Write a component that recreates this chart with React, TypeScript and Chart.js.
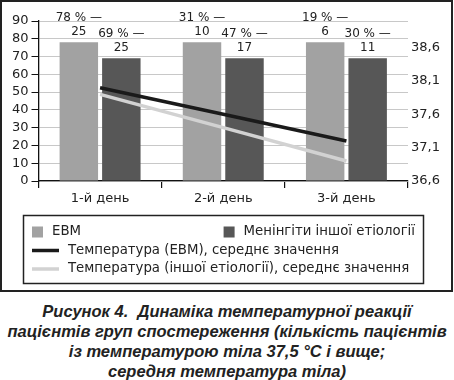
import React, { useEffect, useRef } from "react";
import { Chart, registerables } from "chart.js";

Chart.register(...registerables);

const categories = ["1-й день", "2-й день", "3-й день"];
// bar heights as drawn in the figure (%)
const ebvBars = [78, 78, 78];
const otherBars = [69, 69, 69];
// labels printed above the bars
const ebvPctLabels = ["78 %", "31 %", "19 %"];
const ebvCounts = ["25", "10", "6"];
const otherPctLabels = ["69 %", "47 %", "30 %"];
const otherCounts = ["25", "17", "11"];
// mean temperature, °C
const ebvTemp = [38.0, 37.6, 37.2];
const otherTemp = [37.9, 37.4, 36.9];
const leftTicks = [0, 10, 20, 30, 40, 50, 60, 70, 80, 90];
const rightTicks = [36.6, 37.1, 37.6, 38.1, 38.6];

const seriesNames = [
  "ЕВМ",
  "Менінгіти іншої етіології",
  "Температура (ЕВМ), середнє значення",
  "Температура (іншої етіології), середнє значення",
];

const FONT = "'DejaVu Sans', 'Liberation Sans', Arial, sans-serif";
const TXT = "#222";
const C_EBV = "#a2a2a2";
const C_OTHER = "#575757";
const C_LINE1 = "#1a1a1a";
const C_LINE2 = "#d2d2d2";

const barLabelPlugin = {
  id: "barLabels",
  afterDatasetsDraw(chart: any) {
    const ctx = chart.ctx;
    ctx.save();
    ctx.font = `12px ${FONT}`;
    ctx.fillStyle = TXT;
    ctx.textAlign = "center";
    ctx.textBaseline = "middle";
    const sets = [
      { idx: 2, pct: ebvPctLabels, cnt: ebvCounts },
      { idx: 3, pct: otherPctLabels, cnt: otherCounts },
    ];
    for (const s of sets) {
      const meta = chart.getDatasetMeta(s.idx);
      meta.data.forEach((el: any, i: number) => {
        const x = el.x;
        const y = el.y;
        ctx.fillText(s.cnt[i], x, y - 10.5);
        ctx.fillText(s.pct[i] + " —", x, y - 24);
      });
    }
    ctx.restore();
  },
};

const legendFramePlugin = {
  id: "legendFrame",
  afterDraw(chart: any) {
    const ctx = chart.ctx;
    ctx.save();
    // outer frame
    ctx.strokeStyle = "#222";
    ctx.lineWidth = 2;
    ctx.strokeRect(1, 1, 451, 290);
    // legend box
    ctx.lineWidth = 1.5;
    ctx.strokeRect(23.5, 215.5, 400, 68);
    ctx.font = `13.3px ${FONT}`;
    ctx.fillStyle = TXT;
    ctx.textBaseline = "middle";
    ctx.textAlign = "left";
    // row 1
    const r1 = 232;
    ctx.fillStyle = C_EBV;
    ctx.fillRect(32, r1 - 5.5, 11, 11);
    ctx.fillStyle = TXT;
    ctx.fillText(seriesNames[0], 52, r1);
    const w = ctx.measureText(seriesNames[1]).width;
    const tx = 415 - w;
    ctx.fillStyle = C_OTHER;
    ctx.fillRect(tx - 20, r1 - 5.5, 11, 11);
    ctx.fillStyle = TXT;
    ctx.fillText(seriesNames[1], tx, r1);
    // rows 2, 3
    const rows = [
      { y: 250.5, c: C_LINE1, t: seriesNames[2] },
      { y: 269, c: C_LINE2, t: seriesNames[3] },
    ];
    for (const r of rows) {
      ctx.strokeStyle = r.c;
      ctx.lineWidth = 3.5;
      ctx.beginPath();
      ctx.moveTo(32, r.y);
      ctx.lineTo(59, r.y);
      ctx.stroke();
      ctx.fillStyle = TXT;
      ctx.fillText(r.t, 68, r.y);
    }
    ctx.restore();
  },
};

export default function App() {
  const ref = useRef<HTMLCanvasElement>(null);
  useEffect(() => {
    if (!ref.current) return;
    const chart = new Chart(ref.current, {
      type: "bar",
      data: {
        labels: categories,
        datasets: [
          {
            type: "line",
            label: seriesNames[2],
            data: ebvTemp,
            yAxisID: "y1",
            borderColor: C_LINE1,
            borderWidth: 3.5,
            pointRadius: 0,
            tension: 0,
            order: 0,
          } as any,
          {
            type: "line",
            label: seriesNames[3],
            data: otherTemp,
            yAxisID: "y1",
            borderColor: C_LINE2,
            borderWidth: 3.5,
            pointRadius: 0,
            tension: 0,
            order: 0,
          } as any,
          {
            label: seriesNames[0],
            data: ebvBars,
            backgroundColor: C_EBV,
            yAxisID: "y",
            order: 1,
            categoryPercentage: 0.69,
            barPercentage: 0.905,
          },
          {
            label: seriesNames[1],
            data: otherBars,
            backgroundColor: C_OTHER,
            yAxisID: "y",
            order: 1,
            categoryPercentage: 0.69,
            barPercentage: 0.905,
          },
        ],
      },
      options: {
        responsive: false,
        animation: false,
        layout: { padding: { top: 21, bottom: 81, left: 0, right: 0 } },
        plugins: {
          legend: { display: false },
          tooltip: { enabled: false },
          title: { display: false },
        },
        scales: {
          x: {
            grid: {
              offset: true,
              drawOnChartArea: false,
              drawTicks: true,
              tickLength: 7,
              color: "#111",
              lineWidth: 1.2,
            },
            border: { color: "#111", width: 1.3 },
            ticks: { color: TXT, font: { family: FONT, size: 13 }, padding: 3 },
            afterFit: (s: any) => {
              s.height = 30;
            },
          },
          y: {
            position: "left",
            min: 0,
            max: 90,
            afterBuildTicks: (axis: any) => {
              axis.ticks = leftTicks.map((v) => ({ value: v }));
            },
            grid: {
              color: "#c8c8c8",
              lineWidth: 1,
              drawTicks: true,
              tickLength: 7,
              tickColor: "#111",
            },
            border: { color: "#111", width: 1.3 },
            ticks: {
              color: TXT,
              font: { family: FONT, size: 13 },
              padding: 3,
              autoSkip: false,
            },
            afterFit: (s: any) => {
              s.width = 38.5;
            },
          },
          y1: {
            position: "right",
            min: 36.6,
            max: 39.0,
            afterBuildTicks: (axis: any) => {
              axis.ticks = rightTicks.map((v) => ({ value: v }));
            },
            grid: { drawOnChartArea: false, drawTicks: false },
            border: { display: false },
            ticks: {
              color: TXT,
              font: { family: FONT, size: 13 },
              padding: 3,
              autoSkip: false,
              callback: (v: any) => Number(v).toFixed(1).replace(".", ","),
            },
            afterFit: (s: any) => {
              s.width = 46;
            },
          },
        },
      },
      plugins: [barLabelPlugin, legendFramePlugin],
    });
    return () => chart.destroy();
  }, []);

  return (
    <div
      style={{
        position: "absolute",
        left: 0,
        top: 0,
        width: 454,
        height: 380,
        background: "#fff",
        overflow: "hidden",
      }}
    >
      <canvas ref={ref} width={454} height={292} style={{ display: "block" }} />
      <div
        style={{
          position: "absolute",
          left: 0,
          top: 300.5,
          width: 454,
          textAlign: "center",
          fontFamily: "'Liberation Sans', Arial, sans-serif",
          fontWeight: "bold",
          fontStyle: "italic",
          fontSize: 16.5,
          lineHeight: "20px",
          color: "#222",
          whiteSpace: "nowrap",
        }}
      >
        Рисунок 4.&nbsp; Динаміка температурної реакції
        <br />
        пацієнтів груп спостереження (кількість пацієнтів
        <br />
        із температурою тіла 37,5 °C і вище;
        <br />
        середня температура тіла)
      </div>
    </div>
  );
}
